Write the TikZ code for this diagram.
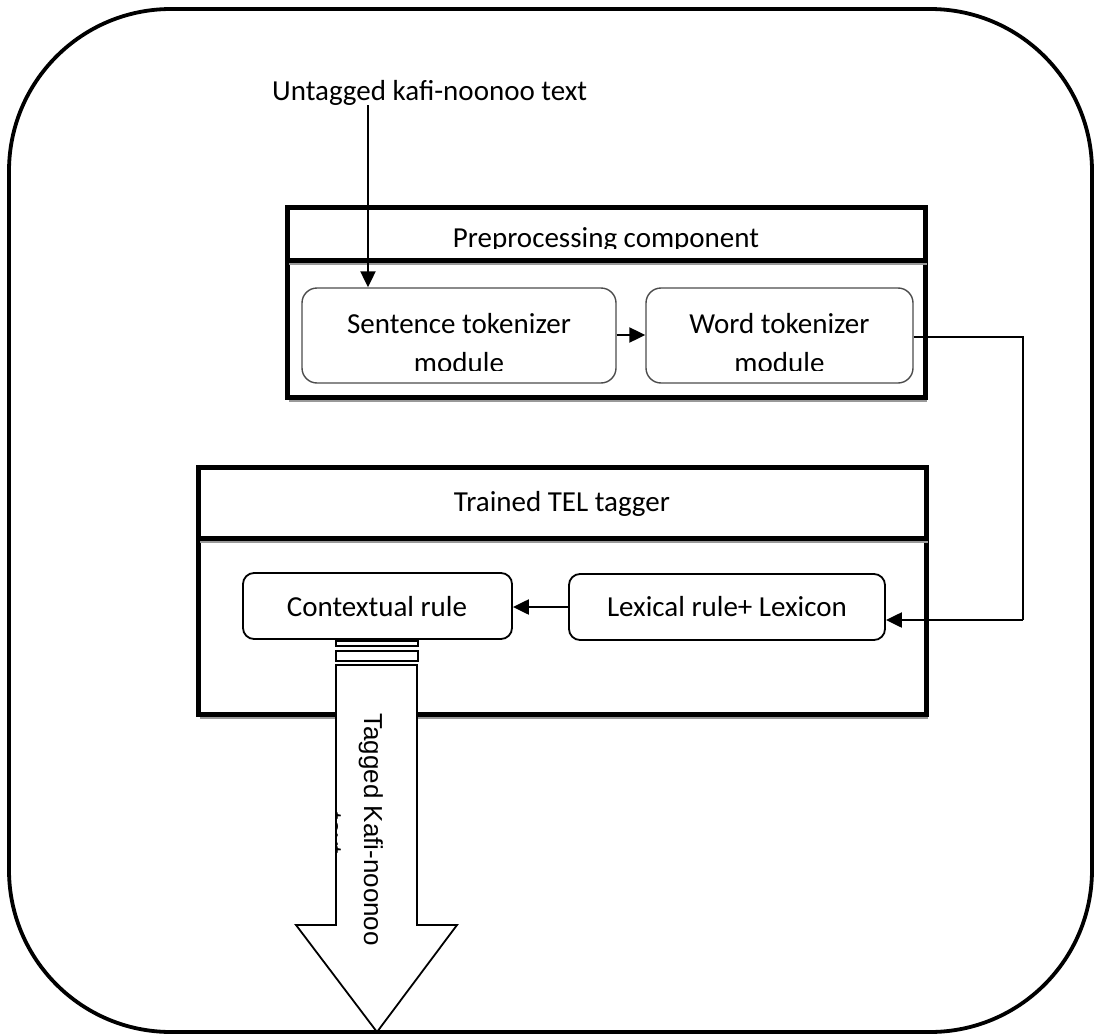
\documentclass[tikz,border=0pt]{standalone}
\usepackage{fontspec}
\setmainfont{Carlito}
\newfontfamily\arrowfont{Liberation Sans}
\usetikzlibrary{arrows.meta,shadows}

\tikzset{
  panel/.style={draw=black, line width=5pt, fill=white, rectangle, inner sep=0pt,
    drop shadow={shadow xshift=1.5pt, shadow yshift=-5pt, fill=black!40, opacity=1}},
  modbox/.style={draw=black!70, line width=1.4pt, fill=white, rounded corners=15pt, inner sep=0pt},
  rulebox/.style={draw=black, line width=1.8pt, fill=white, rounded corners=11pt, inner sep=0pt},
  label/.style={inner sep=0pt, font=\fontsize{29}{35}\selectfont},
  conn/.style={draw=black, line width=2.2pt, -{Triangle[length=16pt, width=15pt]}},
  link/.style={draw=black, line width=1.6pt},
  bigarrow/.style={draw=black, line width=1.8pt, fill=white, line join=miter}
}

\begin{document}
\begin{tikzpicture}[x=1pt, y=-1pt]
\useasboundingbox (0,0) rectangle (1096,1036);

% outer frame
\draw[line width=3.8pt, rounded corners=162pt] (9,9) rectangle (1092,1032);

% input label
\node[label, anchor=base west] (untag) at (272,100) {Untagged kafi-noonoo text};

% preprocessing component
\node[panel, minimum width=638pt, minimum height=137pt] (prebody) at (606,328.5) {};
\node[panel, minimum width=638pt, minimum height=53pt] (prehead) at (606,233.5) {};
\begin{scope}
  \clip (290,210) rectangle (922,248);
  \node[label, anchor=base] (pretitle) at (606,247) {Preprocessing component};
\end{scope}

\node[modbox, minimum width=314pt, minimum height=95pt] (sent) at (459,335.5) {};
\node[modbox, minimum width=267pt, minimum height=95pt] (word) at (779.5,335.5) {};
\begin{scope}
  \clip (303,290) rectangle (912,370);
  \node[label, anchor=base] (senttxt1) at (sent.center |- 0,333) {Sentence tokenizer};
  \node[label, anchor=base] (senttxt2) at (sent.center |- 0,372) {module};
  \node[label, anchor=base] (wordtxt1) at (word.center |- 0,333) {Word tokenizer};
  \node[label, anchor=base] (wordtxt2) at (word.center |- 0,372) {module};
\end{scope}

% trained tagger
\node[panel, minimum width=728pt, minimum height=176pt] (telbody) at (562,626) {};
\node[panel, minimum width=728pt, minimum height=71pt] (telhead) at (562,502.5) {};
\node[label, anchor=base] (teltitle) at (562,511) {Trained TEL tagger};

\node[rulebox, minimum width=269pt, minimum height=66pt] (ctx) at (377.5,606) {};
\node[label, anchor=base] (ctxtxt) at (377,616) {Contextual rule};
\node[rulebox, minimum width=316pt, minimum height=66pt] (lex) at (727,607) {};
\node[label, anchor=base] (lextxt) at (727,616) {Lexical rule+ Lexicon};

% connectors
\coordinate (inx) at (368,0);
\coordinate (bend) at (1023,0);
\draw[conn] (untag.south -| inx) -- (sent.north -| inx);
\draw[conn] (sent.east |- 0,335) -- (word.west |- 0,335);
\draw[link] (word.east |- 0,337) -- (bend |- 0,337) -- (bend |- 0,620);
\draw[conn] (bend |- 0,620) -- (lex.east |- 0,620);
\draw[conn] (lex.west) -- (lex.west -| ctx.east);

% output arrow
\draw[bigarrow] (336,641) rectangle (418,646);
\draw[bigarrow] (336,651) rectangle (418,661);
\draw[bigarrow] (336,665) -- (417,665) -- (417,925) -- (457,925) -- (377,1032)
  -- (296,925) -- (336,925) -- cycle;
\begin{scope}
  \clip (337,666) -- (416,666) -- (416,926) -- (455,926) -- (377,1030)
    -- (298,926) -- (337,926) -- cycle;
  \node[inner sep=0pt, rotate=-90, anchor=base west,
        font=\arrowfont\fontsize{26}{31}\selectfont] (outtxt1) at (364,713) {Tagged Kafi-noonoo};
  \node[inner sep=0pt, rotate=-90, anchor=base,
        font=\arrowfont\fontsize{26}{31}\selectfont] (outtxt2) at (324,833) {text};
\end{scope}
\end{tikzpicture}
\end{document}
